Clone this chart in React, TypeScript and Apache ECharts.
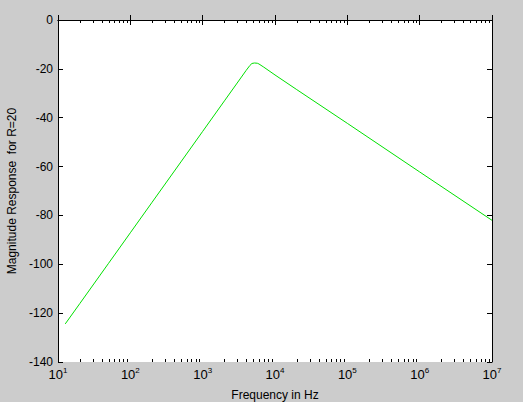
import React, { useEffect, useRef } from "react";
import * as echarts from "echarts";

// Frequency (Hz) and magnitude (dB)
const freqHz = [12.6, 20, 50, 100, 200, 500, 1000, 2000, 3000, 4000, 4500, 4800, 5200, 5700, 6000, 7000, 10000, 20000, 100000, 1000000, 10000000];
const magDb = [-124.4, -116.1, -99.6, -87.1, -74.6, -58.1, -45.6, -33.1, -25.8, -20.6, -18.6, -17.8, -17.6, -17.7, -18.0, -19.3, -22.5, -28.5, -42.3, -62.2, -82.0];

const yTicks = [-140, -120, -100, -80, -60, -40, -20, 0];
const xDecades = [10, 100, 1000, 10000, 100000, 1000000, 10000000];
const minorMultipliers = [2, 3, 4, 5, 6, 7, 8, 9];

const FONT = "'Liberation Sans', Arial, Helvetica, sans-serif";

export default function App() {
  const ref = useRef<HTMLDivElement>(null);
  useEffect(() => {
    if (!ref.current) return;
    const chart = echarts.init(ref.current, null, { renderer: "svg" });
    const minorTicks: number[] = [];
    xDecades.slice(0, -1).forEach((d) => minorMultipliers.forEach((m) => minorTicks.push(d * m)));
    const yMin = yTicks[0];
    const yMax = yTicks[yTicks.length - 1];
    const xMin = xDecades[0];
    const xMax = xDecades[xDecades.length - 1];

    const xCommon = {
      type: "log" as const,
      logBase: 10,
      min: xMin,
      max: xMax,
      splitNumber: 6,
      axisLine: { show: true, lineStyle: { color: "#000", width: 1 } },
      axisTick: { show: true, inside: true, length: 5, lineStyle: { color: "#000" } },
      splitLine: { show: false },
      minorTick: { show: false },
    };
    const yCommon = {
      type: "value" as const,
      min: yMin,
      max: yMax,
      interval: 20,
      axisLine: { show: true, lineStyle: { color: "#000", width: 1 } },
      axisTick: { show: true, inside: true, length: 5, lineStyle: { color: "#000" } },
      splitLine: { show: false },
    };

    chart.setOption({
      animation: false,
      backgroundColor: "#cccccc",
      textStyle: { fontFamily: FONT },
      grid: {
        left: 58, top: 20, right: 31, bottom: 40,
        containLabel: false,
        outerBoundsMode: "none",
        show: true, backgroundColor: "#ffffff", borderWidth: 0,
      },
      xAxis: [
        {
          ...xCommon,
          position: "bottom",
          name: "Frequency in Hz",
          nameLocation: "middle",
          nameGap: 26,
          nameTextStyle: { color: "#000", fontSize: 12, lineHeight: 13, fontFamily: FONT },
          axisLabel: {
            show: true,
            margin: 4,
            color: "#000",
            formatter: (v: number) => `{b|10}{s|${Math.round(Math.log10(v))}}`,
            rich: {
              b: { fontSize: 13, lineHeight: 16, color: "#000", fontFamily: FONT },
              s: { fontSize: 8, lineHeight: 10, verticalAlign: "top", color: "#000", fontFamily: FONT },
            },
          },
        },
        {
          ...xCommon,
          position: "top",
          axisLabel: { show: false },
        },
      ],
      yAxis: [
        {
          ...yCommon,
          position: "left",
          name: "Magnitude Response  for R=20",
          nameLocation: "middle",
          nameGap: 37,
          nameTextStyle: { color: "#000", fontSize: 12, fontFamily: FONT },
          axisLabel: { show: true, margin: 5, color: "#000", fontSize: 12, fontFamily: FONT },
        },
        {
          ...yCommon,
          position: "right",
          axisLabel: { show: false },
        },
      ],
      series: [
        {
          type: "line",
          data: freqHz.map((f, i) => [f, magDb[i]]),
          showSymbol: false,
          symbol: "none",
          lineStyle: { color: "#00e000", width: 1 },
          xAxisIndex: 0,
          yAxisIndex: 0,
          z: 3,
        },
        {
          type: "custom",
          xAxisIndex: 0,
          yAxisIndex: 0,
          silent: true,
          clip: false,
          data: minorTicks.map((v) => [v, yMin]),
          renderItem: (params: any, api: any) => {
            const v = api.value(0);
            const b = api.coord([v, yMin]);
            const t = api.coord([v, yMax]);
            const x = Math.round(b[0]) + 0.5;
            return {
              type: "group",
              children: [
                { type: "line", shape: { x1: x, y1: b[1], x2: x, y2: b[1] - 3 }, style: { stroke: "#000", lineWidth: 1 } },
                { type: "line", shape: { x1: x, y1: t[1], x2: x, y2: t[1] + 3 }, style: { stroke: "#000", lineWidth: 1 } },
              ],
            };
          },
          z: 4,
        },
      ],
    });
    return () => chart.dispose();
  }, []);
  return <div ref={ref} style={{ position: "absolute", left: 0, top: 0, width: 523, height: 402 }} />;
}
